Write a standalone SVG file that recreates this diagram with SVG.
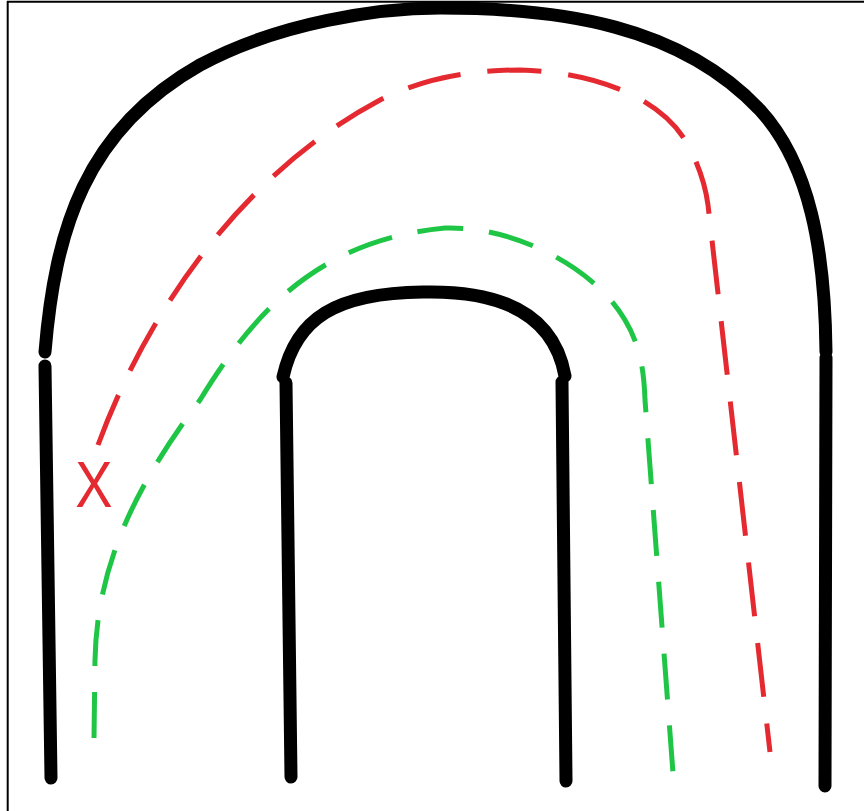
<svg xmlns="http://www.w3.org/2000/svg" width="864" height="811" viewBox="0 0 864 811">
<style>
.wall{fill:none;stroke:#000;stroke-width:13;stroke-linecap:round;stroke-linejoin:round}
.red{fill:none;stroke:#e42a30;stroke-width:5;stroke-dasharray:54 27}
.green{fill:none;stroke:#1fc646;stroke-width:5;stroke-dasharray:46 26}
.lbl{font-family:"Liberation Sans",Arial,sans-serif;fill:#e42a30}
</style>
<rect width="864" height="811" fill="#fff"/>
<g id="frame">
<line x1="7.7" y1="1" x2="7.7" y2="811" stroke="#000" stroke-width="2"/>
<line x1="7" y1="1.8" x2="864" y2="1.8" stroke="#000" stroke-width="2"/>
</g>
<g id="outer-wall">
<path class="wall" d="M45,352 C55,230 85,130 200,65 C280,22 380,8 440,8 C560,8 680,25 760,110 C810,165 825,250 826,352"/>
<path class="wall" d="M45,366 L51,778"/>
<path class="wall" d="M826,358 L825,786"/>
</g>
<g id="inner-wall">
<path class="wall" d="M283,377 C296,318 336,293 423,292 C510,290 555,320 565,376"/>
<path class="wall" d="M286,383 L291,777"/>
<path class="wall" d="M562,382 L566,781"/>
</g>
<g id="connectors">
<path id="red-path" class="red" d="M98,445 C140,330 230,180 380,100 C430,75 480,70 520,70 C600,72 660,100 685,140 C700,165 706,190 708,205 L770,752"/>
<path id="green-path" class="green" d="M94,738 L95,660 C97,560 140,480 200,400 C255,310 320,240 445,228 C515,226 595,268 625,320 C640,345 644,370 645,400 L673,773"/>
</g>
<g id="x-mark">
<text class="lbl" x="0" y="0" font-size="65" text-anchor="middle" transform="translate(94,507) scale(0.86,1)">X</text>
</g>
</svg>
